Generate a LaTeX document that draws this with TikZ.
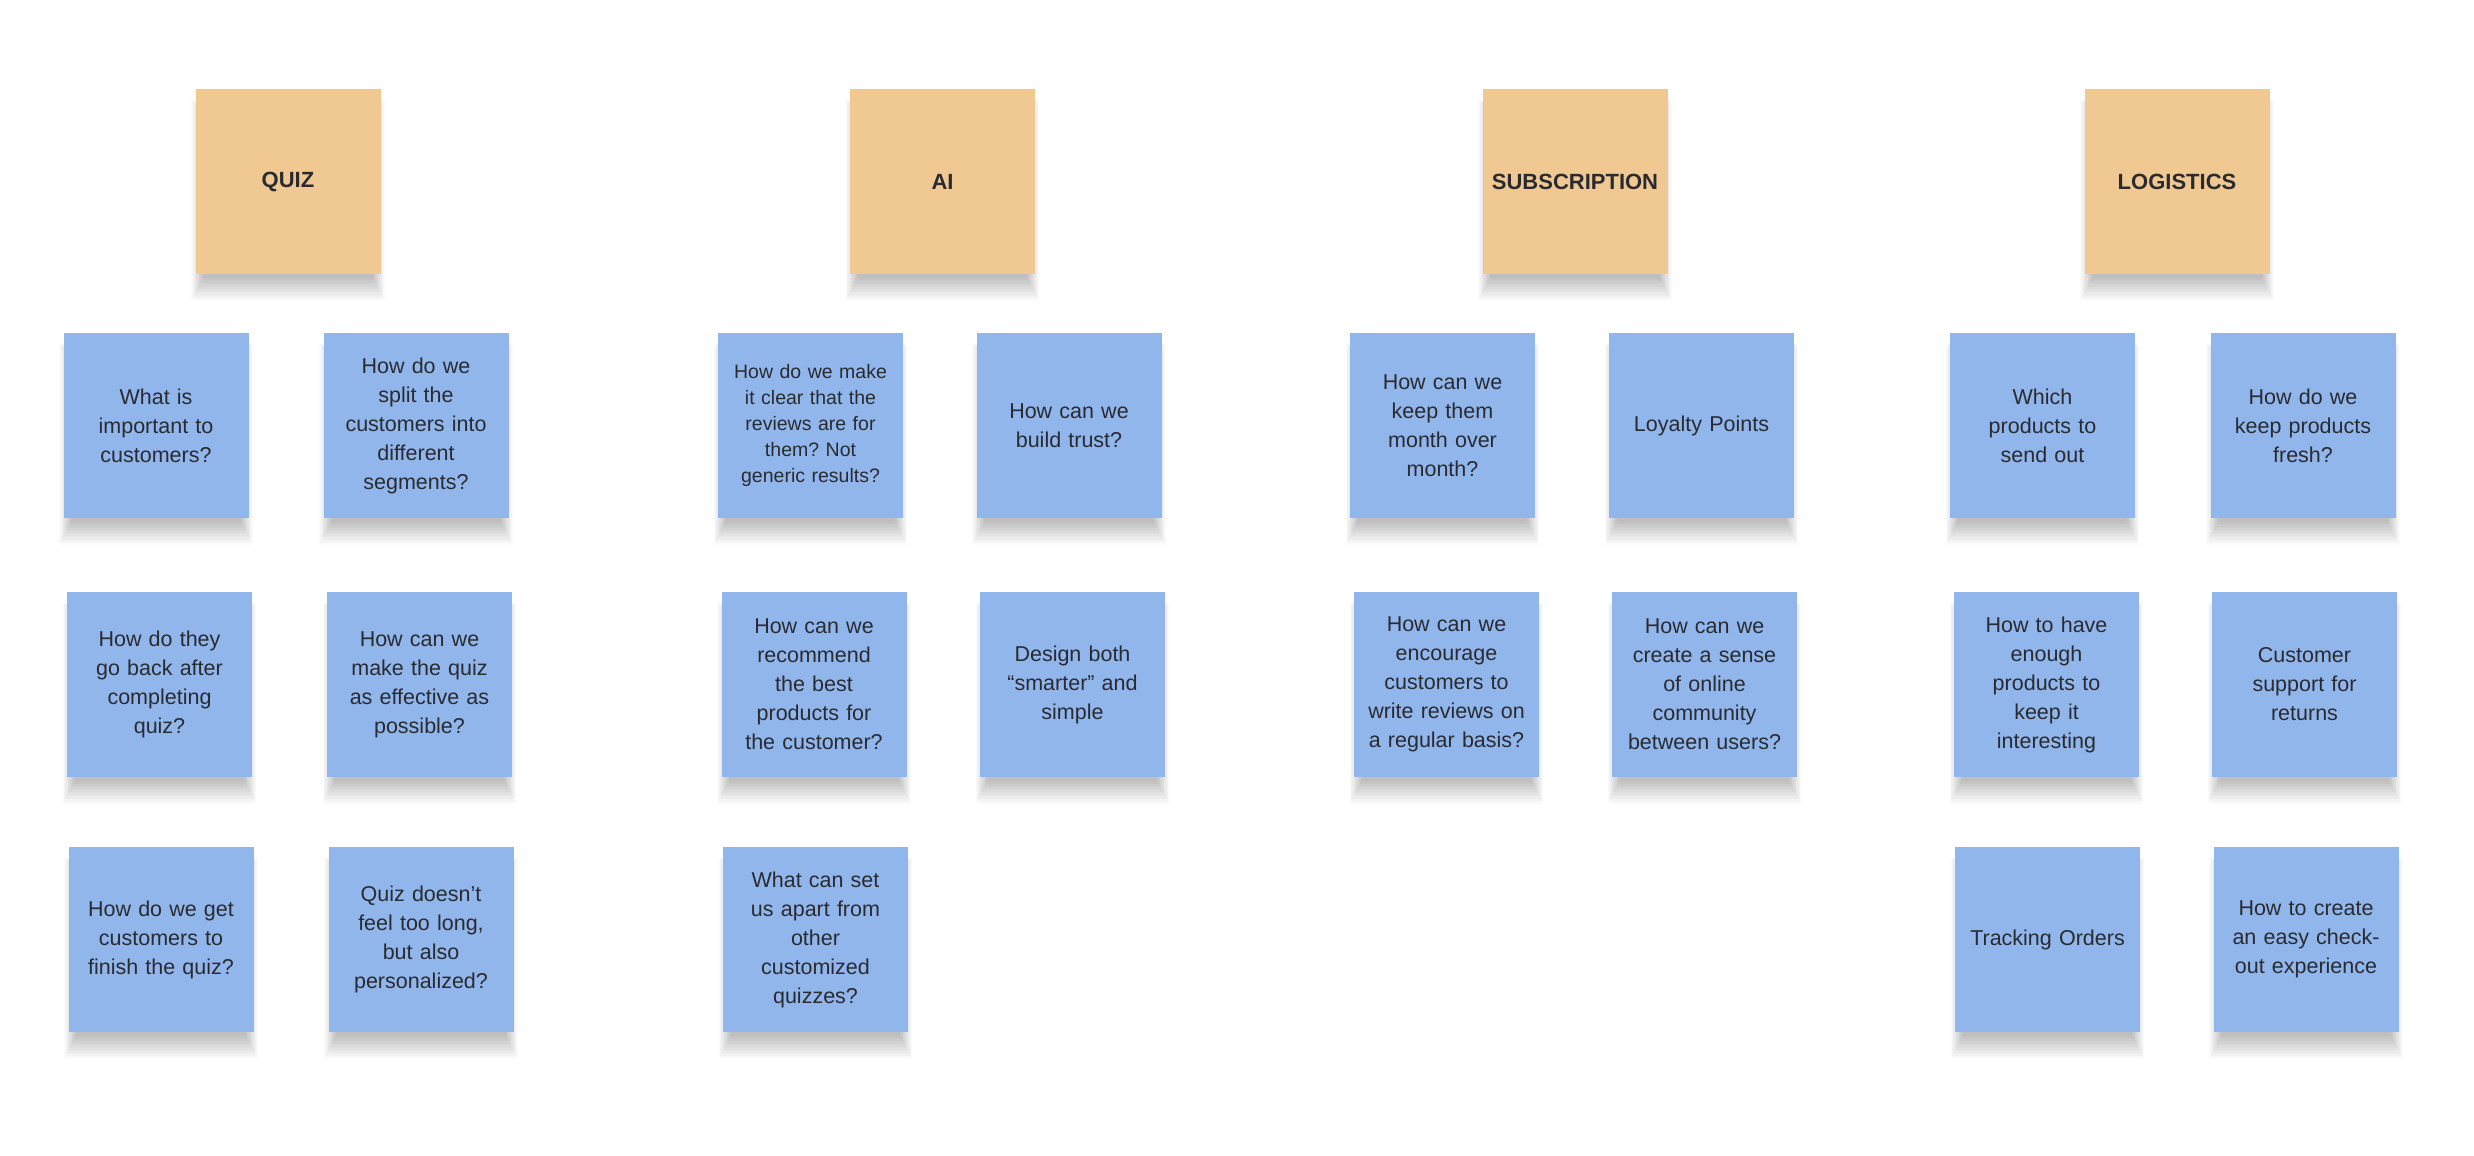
\documentclass[tikz,border=0pt]{standalone}
\usepackage{fontspec}
\setmainfont{Liberation Sans}
\frenchspacing
\usetikzlibrary{calc,backgrounds}
\definecolor{cardorange}{HTML}{F0C992}
\definecolor{cardblue}{HTML}{90B6EC}
\definecolor{cardtext}{HTML}{2A2B31}
\tikzset{
  card/.style={rectangle, minimum width=185pt, minimum height=185pt, inner sep=0pt,
    text width=172pt, align=center, text=cardtext,
    font=\fontsize{21.5}{29}\selectfont},
  headcard/.style={card, fill=cardorange, font=\fontsize{22}{29}\selectfont\bfseries},
  notecard/.style={card, fill=cardblue},
  smallnote/.style={notecard, font=\fontsize{19.5}{26}\selectfont},
  shadowlayer/.style={fill=black, opacity=0.017}
}
\newcommand\cardshadow[1]{%
  \foreach \k in {0,...,15}{%
    \fill[shadowlayer] ($(#1.south west)+(8-0.8*\k,4+1.5*\k)$) rectangle ($(#1.north east)+(-8+0.8*\k,20-0.6*\k)$);
  }%
}
\begin{document}
\begin{tikzpicture}[x=1pt,y=-1pt]
\useasboundingbox (0,0) rectangle (2474,1156);
% headers
\node[headcard] (quiz) at (288,181.5) {QUIZ};
\node[headcard] (ai) at (942.5,181.5) {AI};
\node[headcard] (sub) at (1575,181.5) {SUBSCRIPTION};
\node[headcard] (log) at (2177,181.5) {LOGISTICS};
% QUIZ
\node[notecard] (q1) at (156,425.5) {What is\\important to\\customers?};
\node[notecard] (q2) at (416,425.5) {How do we\\split the\\customers into\\different\\segments?};
\node[notecard] (q3) at (159.5,684.5) {How do they\\go back after\\completing\\quiz?};
\node[notecard] (q4) at (419.5,684.5) {How can we\\make the quiz\\as effective as\\possible?};
\node[notecard] (q5) at (161,939.5) {How do we get\\customers to\\finish the quiz?};
\node[notecard] (q6) at (421,939.5) {Quiz doesn't\\feel too long,\\but also\\personalized?};
% AI
\node[smallnote] (a1) at (810.5,425.5) {How do we make\\it clear that the\\reviews are for\\them? Not\\generic results?};
\node[notecard] (a2) at (1069,425.5) {How can we\\build trust?};
\node[notecard] (a3) at (814,684.5) {How can we\\recommend\\the best\\products for\\the customer?};
\node[notecard] (a4) at (1072.5,684.5) {Design both\\“smarter” and\\simple};
\node[notecard] (a5) at (815.5,939.5) {What can set\\us apart from\\other\\customized\\quizzes?};
% SUBSCRIPTION
\node[notecard] (s1) at (1442.5,425.5) {How can we\\keep them\\month over\\month?};
\node[notecard] (s2) at (1701.5,425.5) {Loyalty Points};
\node[notecard] (s3) at (1446.5,684.5) {How can we\\encourage\\customers to\\write reviews on\\a regular basis?};
\node[notecard] (s4) at (1704.5,684.5) {How can we\\create a sense\\of online\\community\\between users?};
% LOGISTICS
\node[notecard] (l1) at (2042.5,425.5) {Which\\products to\\send out};
\node[notecard] (l2) at (2303,425.5) {How do we\\keep products\\fresh?};
\node[notecard] (l3) at (2046.5,684.5) {How to have\\enough\\products to\\keep it\\interesting};
\node[notecard] (l4) at (2304.5,684.5) {Customer\\support for\\returns};
\node[notecard] (l5) at (2047.5,939.5) {Tracking Orders};
\node[notecard] (l6) at (2306,939.5) {How to create\\an easy check-\\out experience};
\begin{scope}[on background layer]
  \fill[white] (0,0) rectangle (2474,1156);
  \foreach \n in {quiz,ai,sub,log,q1,q2,q3,q4,q5,q6,a1,a2,a3,a4,a5,s1,s2,s3,s4,l1,l2,l3,l4,l5,l6}{\cardshadow{\n}}
\end{scope}
\end{tikzpicture}
\end{document}
